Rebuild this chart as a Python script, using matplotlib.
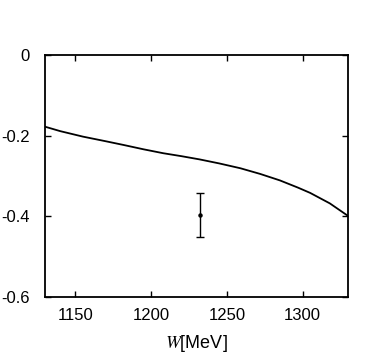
import matplotlib
matplotlib.use("Agg")
import matplotlib.pyplot as plt

plt.rcParams["font.family"] = ["Liberation Sans", "DejaVu Sans"]
plt.rcParams["mathtext.fontset"] = "stix"
plt.rcParams["axes.unicode_minus"] = False

# curve
W_CURVE = [1130, 1140, 1155, 1170, 1182, 1195, 1208, 1220, 1232, 1245,
           1259, 1272, 1285, 1297, 1305, 1318, 1330]
AMP_CURVE = [-0.178, -0.189, -0.2026, -0.214, -0.2234, -0.234, -0.2437, -0.251,
             -0.259, -0.269, -0.281, -0.295, -0.311, -0.329, -0.342, -0.368, -0.399]

# single data point with error bar
W_POINT = [1232]
AMP_POINT = [-0.397]
AMP_ERR = [0.055]

X_TICKS = [1150, 1200, 1250, 1300]
Y_TICKS = [0, -0.2, -0.4, -0.6]
Y_TICK_LABELS = ["0", "-0.2", "-0.4", "-0.6"]


def main() -> None:
    fig = plt.figure(figsize=(3.82, 3.54), dpi=100)
    ax = fig.add_axes([0.118, 0.161, 0.793, 0.684])

    ax.plot(W_CURVE, AMP_CURVE, color="black", linewidth=1.3,
            solid_joinstyle="round")
    ax.errorbar(W_POINT, AMP_POINT, yerr=AMP_ERR, fmt="o", color="black",
                markersize=2.2, elinewidth=1.0, capsize=3, capthick=1.0)

    ax.set_xlim(1130, 1330)
    ax.set_ylim(-0.6, 0)
    ax.set_xticks(X_TICKS)
    ax.set_yticks(Y_TICKS)
    ax.set_yticklabels(Y_TICK_LABELS)
    ax.tick_params(direction="in", top=True, right=True, length=4, width=1.0,
                   labelsize=12, colors="black")
    ax.tick_params(axis="x", pad=8)
    ax.tick_params(axis="y", pad=11)
    for s in ax.spines.values():
        s.set_linewidth(1.3)

    ax.set_xlabel(r"$W$[MeV]", fontsize=13, labelpad=7)

    fig.savefig("out.png", dpi=100)


if __name__ == "__main__":
    main()
